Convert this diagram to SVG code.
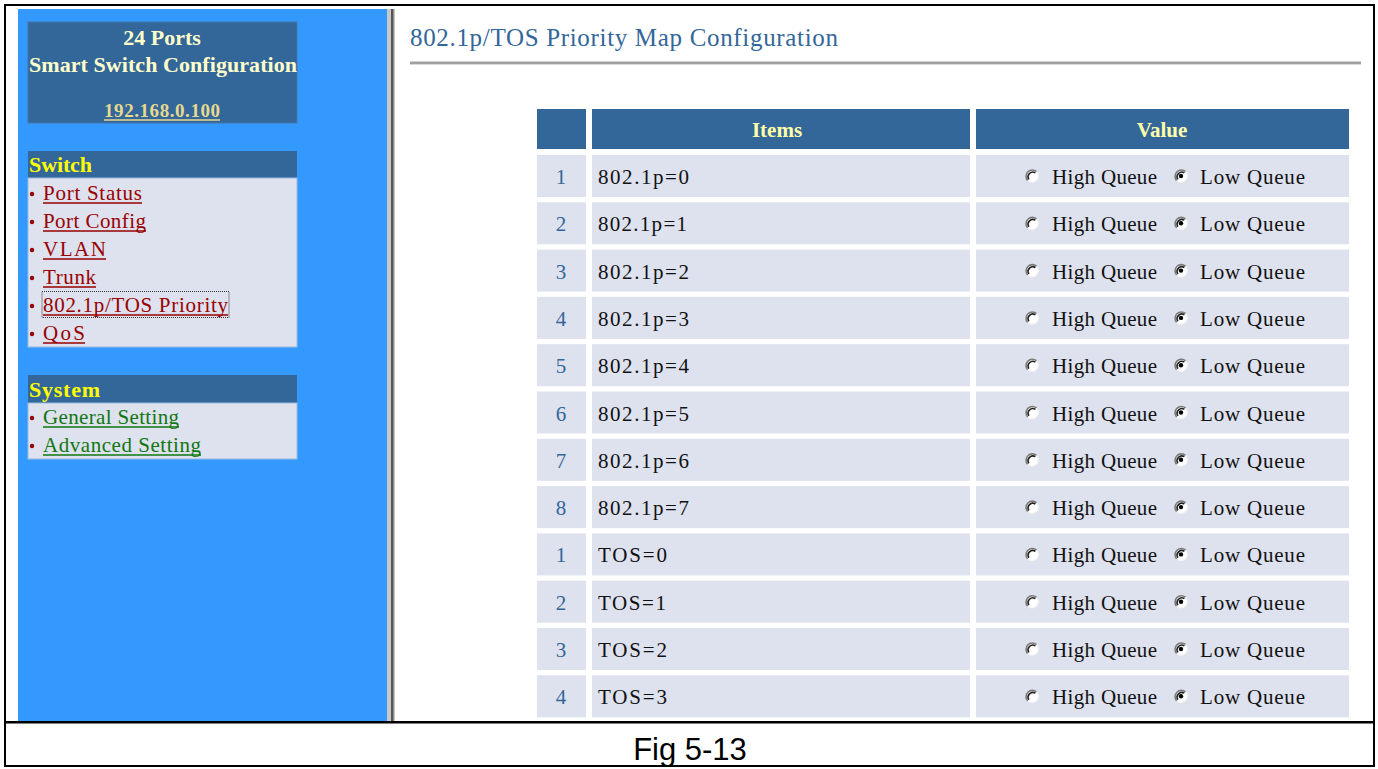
<svg xmlns="http://www.w3.org/2000/svg" width="1378" height="769" viewBox="0 0 1378 769">
  <style>
    .serif { font-family: "Liberation Serif", "DejaVu Serif", serif; }
    .hdr { font-family: "Liberation Serif", serif; font-weight: bold; font-size: 22px; fill: #ffffcc; }
    .sec { font-family: "Liberation Serif", serif; font-weight: bold; font-size: 22px; fill: #ffff00; }
    .lnkR { font-family: "Liberation Serif", serif; font-size: 21px; fill: #990000; }
    .lnkG { font-family: "Liberation Serif", serif; font-size: 21px; fill: #117711; }
    .ulR { stroke: #990000; stroke-width: 1.3; }
    .ulG { stroke: #117711; stroke-width: 1.3; }
    .bul { fill: #990000; }
    .th { fill: #336699; }
    .td { fill: #dee1ee; }
    .thText { font-family: "Liberation Serif", serif; font-weight: bold; font-size: 21px; fill: #ffffaa; text-anchor: middle; }
    .num { font-family: "Liberation Serif", serif; font-size: 21px; fill: #336699; text-anchor: middle; }
    .item { font-family: "Liberation Serif", serif; font-size: 21px; fill: #111; }
    .val { font-family: "Liberation Serif", serif; font-size: 21px; fill: #111; }
  </style>
  <defs>
    <!-- classic sunken radio button -->
    <g id="radio">
      <circle r="6.3" fill="#ffffff"/>
      <path d="M 4.6 -4.3 A 6.3 6.3 0 0 0 -4.3 4.6" fill="none" stroke="#7a7a7a" stroke-width="1.6"/>
      <path d="M 3.4 -3.1 A 4.7 4.7 0 0 0 -3.1 3.4" fill="none" stroke="#202020" stroke-width="1.6"/>
      <path d="M 4.6 -4.3 A 6.3 6.3 0 0 1 -4.3 4.6" fill="none" stroke="#f4f4f4" stroke-width="1.2"/>
    </g>
    <g id="radioOn">
      <use href="#radio"/>
      <circle r="2.2" fill="#000000"/>
    </g>
    <g id="valueCell">
      <use href="#radio" x="1032" y="0"/>
      <text class="val" x="1052" y="8" textLength="105">High Queue</text>
      <use href="#radioOn" x="1181" y="0"/>
      <text class="val" x="1200" y="8" textLength="105">Low Queue</text>
    </g>
  </defs>

  <rect x="0" y="0" width="1378" height="769" fill="#ffffff"/>

  <!-- left navigation panel -->
  <g id="sidebar">
    <rect x="18" y="9" width="369" height="712" fill="#3399ff"/>
    <rect x="387" y="9" width="8" height="712" fill="#c8c8c8"/>
    <rect x="391" y="9" width="2.5" height="712" fill="#555555"/>
  </g>

  <g id="title-box">
    <rect x="28" y="22" width="269" height="101" fill="#336699" stroke="#4477aa" stroke-width="1"/>
    <text class="hdr" x="162" y="45" text-anchor="middle">24 Ports</text>
    <text class="hdr" x="163" y="72" text-anchor="middle" textLength="268">Smart Switch Configuration</text>
    <text x="162" y="117" text-anchor="middle" font-family="Liberation Serif, serif" font-weight="bold" font-size="19" fill="#e6d990" textLength="116">192.168.0.100</text>
    <line x1="104" y1="120" x2="220" y2="120" stroke="#e6d990" stroke-width="1.3"/>
  </g>

  <g id="menu-switch">
    <rect x="28" y="151" width="269" height="27" fill="#336699"/>
    <rect x="28" y="178" width="269" height="169" fill="#dee1ee" stroke="#9bbbe0" stroke-width="1"/>
    <text class="sec" x="29" y="172" textLength="63">Switch</text>
    <circle class="bul" cx="32" cy="194" r="2.2"/>
    <text class="lnkR" x="43" y="200" textLength="99">Port Status</text>
    <line class="ulR" x1="43" y1="203" x2="142" y2="203"/>
    <circle class="bul" cx="32" cy="222" r="2.2"/>
    <text class="lnkR" x="43" y="228" textLength="103">Port Config</text>
    <line class="ulR" x1="43" y1="231" x2="146" y2="231"/>
    <circle class="bul" cx="32" cy="250" r="2.2"/>
    <text class="lnkR" x="43" y="256" textLength="63">VLAN</text>
    <line class="ulR" x1="43" y1="259" x2="106" y2="259"/>
    <circle class="bul" cx="32" cy="278" r="2.2"/>
    <text class="lnkR" x="43" y="284" textLength="53">Trunk</text>
    <line class="ulR" x1="43" y1="287" x2="96" y2="287"/>
    <circle class="bul" cx="32" cy="306" r="2.2"/>
    <text class="lnkR" x="43" y="312" textLength="185">802.1p/TOS Priority</text>
    <line class="ulR" x1="43" y1="315" x2="228" y2="315"/>
    <rect x="42" y="291.5" width="187" height="26" fill="none" stroke="#333333" stroke-width="1" stroke-dasharray="1,1"/>
    <circle class="bul" cx="32" cy="334" r="2.2"/>
    <text class="lnkR" x="43" y="340" textLength="42">QoS</text>
    <line class="ulR" x1="43" y1="343" x2="85" y2="343"/>
  </g>

  <g id="menu-system">
    <rect x="28" y="375" width="269" height="28" fill="#336699"/>
    <rect x="28" y="403" width="269" height="56" fill="#dee1ee" stroke="#9bbbe0" stroke-width="1"/>
    <text class="sec" x="29" y="397" textLength="71">System</text>
    <circle class="bul" cx="32" cy="418" r="2.2"/>
    <text class="lnkG" x="43" y="424" textLength="136">General Setting</text>
    <line class="ulG" x1="43" y1="427" x2="179" y2="427"/>
    <circle class="bul" cx="32" cy="446" r="2.2"/>
    <text class="lnkG" x="43" y="452" textLength="158">Advanced Setting</text>
    <line class="ulG" x1="43" y1="455" x2="201" y2="455"/>
  </g>

  <!-- page heading -->
  <g id="page-title">
    <text x="410" y="46" font-family="Liberation Serif, serif" font-size="25" fill="#336699" textLength="428">802.1p/TOS Priority Map Configuration</text>
    <rect x="410" y="61.5" width="951" height="3" fill="#a0a0a0"/>
    <rect x="410" y="64" width="951" height="1" fill="#d8d8d8"/>
  </g>

  <!-- priority map table -->
  <g id="table-header">
    <rect class="th" x="537" y="109" width="49" height="40"/>
    <rect class="th" x="592" y="109" width="378" height="40"/>
    <rect class="th" x="976" y="109" width="373" height="40"/>
    <text class="thText" x="777" y="137">Items</text>
    <text class="thText" x="1162" y="137">Value</text>
  </g>

  <g id="row-1" transform="translate(0,155)">
    <rect class="td" x="537" width="49" height="42"/><rect class="td" x="592" width="378" height="42"/><rect class="td" x="976" width="373" height="42"/>
    <text class="num" x="561" y="29">1</text><text class="item" x="598" y="29" textLength="91">802.1p=0</text>
    <use href="#valueCell" y="21"/>
  </g>
  <g id="row-2" transform="translate(0,202.3)">
    <rect class="td" x="537" width="49" height="42"/><rect class="td" x="592" width="378" height="42"/><rect class="td" x="976" width="373" height="42"/>
    <text class="num" x="561" y="29">2</text><text class="item" x="598" y="29" textLength="89">802.1p=1</text>
    <use href="#valueCell" y="21"/>
  </g>
  <g id="row-3" transform="translate(0,249.6)">
    <rect class="td" x="537" width="49" height="42"/><rect class="td" x="592" width="378" height="42"/><rect class="td" x="976" width="373" height="42"/>
    <text class="num" x="561" y="29">3</text><text class="item" x="598" y="29" textLength="91">802.1p=2</text>
    <use href="#valueCell" y="21"/>
  </g>
  <g id="row-4" transform="translate(0,296.9)">
    <rect class="td" x="537" width="49" height="42"/><rect class="td" x="592" width="378" height="42"/><rect class="td" x="976" width="373" height="42"/>
    <text class="num" x="561" y="29">4</text><text class="item" x="598" y="29" textLength="91">802.1p=3</text>
    <use href="#valueCell" y="21"/>
  </g>
  <g id="row-5" transform="translate(0,344.2)">
    <rect class="td" x="537" width="49" height="42"/><rect class="td" x="592" width="378" height="42"/><rect class="td" x="976" width="373" height="42"/>
    <text class="num" x="561" y="29">5</text><text class="item" x="598" y="29" textLength="91">802.1p=4</text>
    <use href="#valueCell" y="21"/>
  </g>
  <g id="row-6" transform="translate(0,391.5)">
    <rect class="td" x="537" width="49" height="42"/><rect class="td" x="592" width="378" height="42"/><rect class="td" x="976" width="373" height="42"/>
    <text class="num" x="561" y="29">6</text><text class="item" x="598" y="29" textLength="91">802.1p=5</text>
    <use href="#valueCell" y="21"/>
  </g>
  <g id="row-7" transform="translate(0,438.8)">
    <rect class="td" x="537" width="49" height="42"/><rect class="td" x="592" width="378" height="42"/><rect class="td" x="976" width="373" height="42"/>
    <text class="num" x="561" y="29">7</text><text class="item" x="598" y="29" textLength="91">802.1p=6</text>
    <use href="#valueCell" y="21"/>
  </g>
  <g id="row-8" transform="translate(0,486.1)">
    <rect class="td" x="537" width="49" height="42"/><rect class="td" x="592" width="378" height="42"/><rect class="td" x="976" width="373" height="42"/>
    <text class="num" x="561" y="29">8</text><text class="item" x="598" y="29" textLength="91">802.1p=7</text>
    <use href="#valueCell" y="21"/>
  </g>
  <g id="row-9" transform="translate(0,533.4)">
    <rect class="td" x="537" width="49" height="42"/><rect class="td" x="592" width="378" height="42"/><rect class="td" x="976" width="373" height="42"/>
    <text class="num" x="561" y="29">1</text><text class="item" x="598" y="29" textLength="69">TOS=0</text>
    <use href="#valueCell" y="21"/>
  </g>
  <g id="row-10" transform="translate(0,580.7)">
    <rect class="td" x="537" width="49" height="42"/><rect class="td" x="592" width="378" height="42"/><rect class="td" x="976" width="373" height="42"/>
    <text class="num" x="561" y="29">2</text><text class="item" x="598" y="29" textLength="68">TOS=1</text>
    <use href="#valueCell" y="21"/>
  </g>
  <g id="row-11" transform="translate(0,628)">
    <rect class="td" x="537" width="49" height="42"/><rect class="td" x="592" width="378" height="42"/><rect class="td" x="976" width="373" height="42"/>
    <text class="num" x="561" y="29">3</text><text class="item" x="598" y="29" textLength="69">TOS=2</text>
    <use href="#valueCell" y="21"/>
  </g>
  <g id="row-12" transform="translate(0,675.3)">
    <rect class="td" x="537" width="49" height="42"/><rect class="td" x="592" width="378" height="42"/><rect class="td" x="976" width="373" height="42"/>
    <text class="num" x="561" y="29">4</text><text class="item" x="598" y="29" textLength="69">TOS=3</text>
    <use href="#valueCell" y="21"/>
  </g>

  <g id="connectors"/>

  <!-- figure frame and caption -->
  <g id="frame">
    <rect x="5" y="5" width="1369" height="761" fill="none" stroke="#000000" stroke-width="2"/>
    <rect x="5" y="721" width="1369" height="2.5" fill="#000000"/>
    <text x="690" y="760" text-anchor="middle" font-family="Liberation Sans, Arial, sans-serif" font-size="31" fill="#000000">Fig 5-13</text>
  </g>
</svg>
